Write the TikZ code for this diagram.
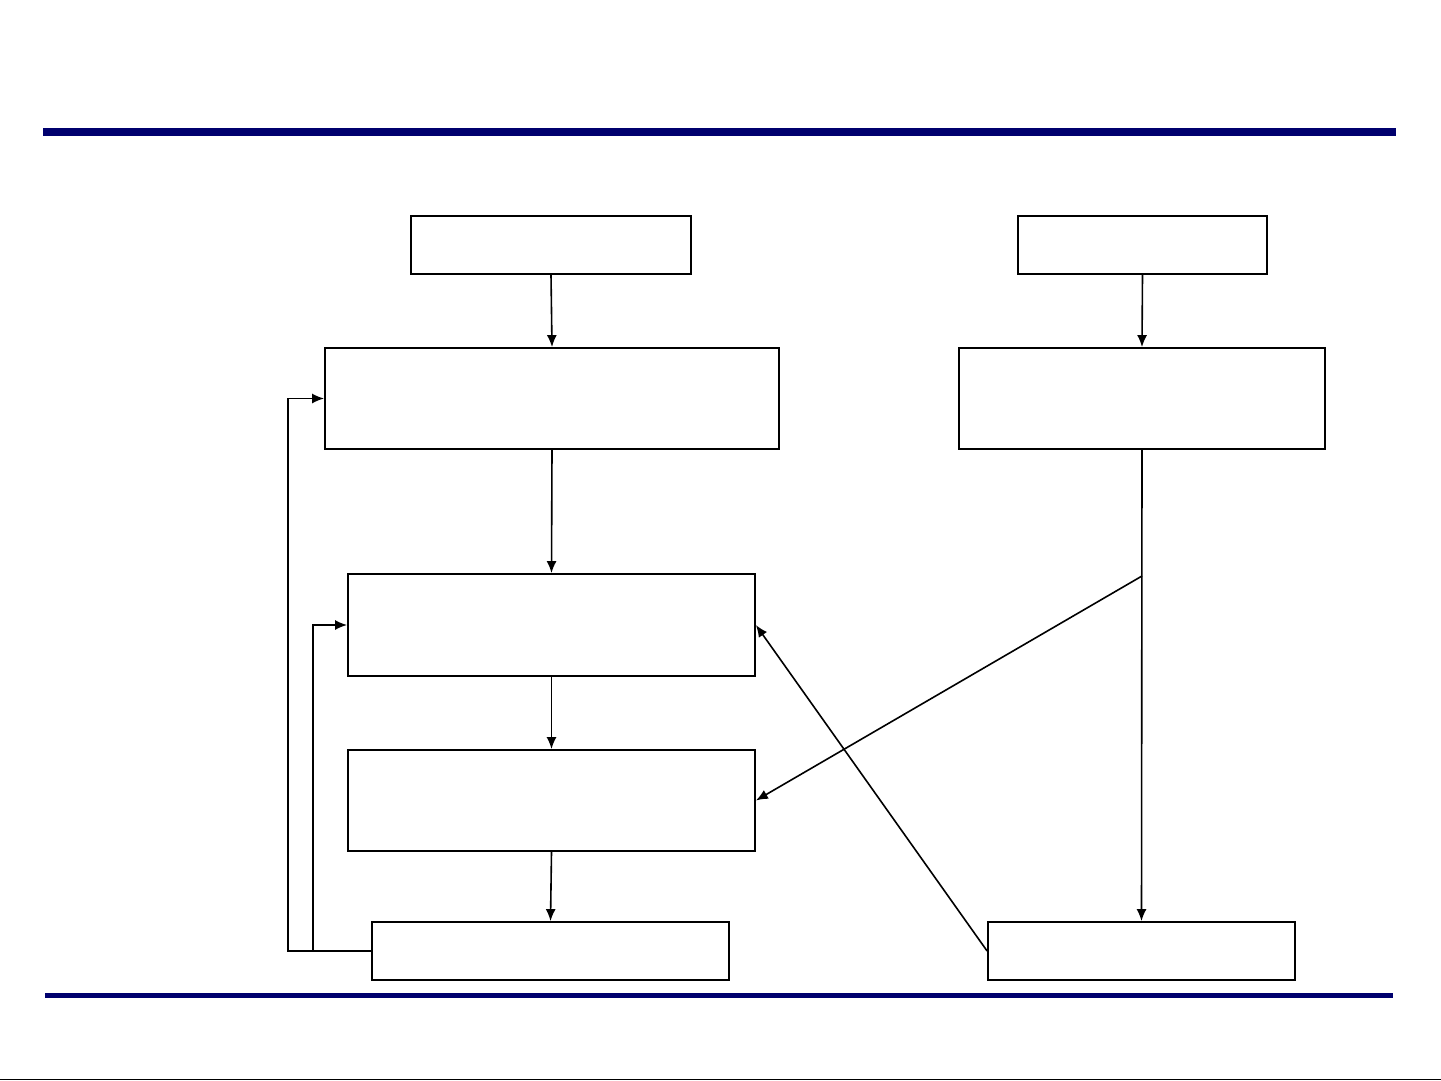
\documentclass[tikz,border=0pt]{standalone}
\usetikzlibrary{arrows.meta}
\definecolor{navybar}{RGB}{0,0,110}
\begin{document}
\begin{tikzpicture}[x=1pt,y=-1pt,
  box/.style={draw=black,line width=1.8pt,fill=white,inner sep=0pt},
  conn/.style={draw=black,line width=1.6pt,-{Latex[length=12pt,width=10pt]}},
  plain/.style={draw=black,line width=1.6pt}]
\useasboundingbox[fill=white] (0,0) rectangle (1441,1081);
% bars
\fill[navybar] (43,128) rectangle (1396,136);
\fill[navybar] (45,993) rectangle (1393,998);
\draw[black,line width=1.5pt] (0,1079.5) -- (1441,1079.5);
% boxes
\node[box,minimum width=280pt,minimum height=58pt] (A) at (551,245) {};
\node[box,minimum width=454pt,minimum height=101pt] (B) at (552,398.5) {};
\node[box,minimum width=249pt,minimum height=58pt] (C) at (1142.5,245) {};
\node[box,minimum width=366pt,minimum height=101pt] (D) at (1142,398.5) {};
\node[box,minimum width=407pt,minimum height=102pt] (E) at (551.5,625) {};
\node[box,minimum width=407pt,minimum height=101pt] (F) at (551.5,800.5) {};
\node[box,minimum width=357pt,minimum height=58pt] (G) at (550.5,951) {};
\node[box,minimum width=307pt,minimum height=58pt] (H) at (1141.5,951) {};
% connectors
\draw[conn] (A.south) -- (B.north);
\draw[conn] (B.south) -- (E.north);
\draw[conn] (E.south) -- (F.north);
\draw[conn] (F.south) -- (G.north);
\draw[conn] (C.south) -- (D.north);
\draw[conn] (D.south) -- (H.north);
\coordinate (br) at (1142,576);
\draw[conn] (br) -- (F.east);
\draw[conn] (H.west) -- (E.east);
\coordinate (fb1) at (288,951);
\coordinate (fb2) at (313,951);
\draw[conn] (G.west) -- (fb1) |- (B.west);
\draw[conn] (fb2) |- (E.west);
\end{tikzpicture}
\end{document}
